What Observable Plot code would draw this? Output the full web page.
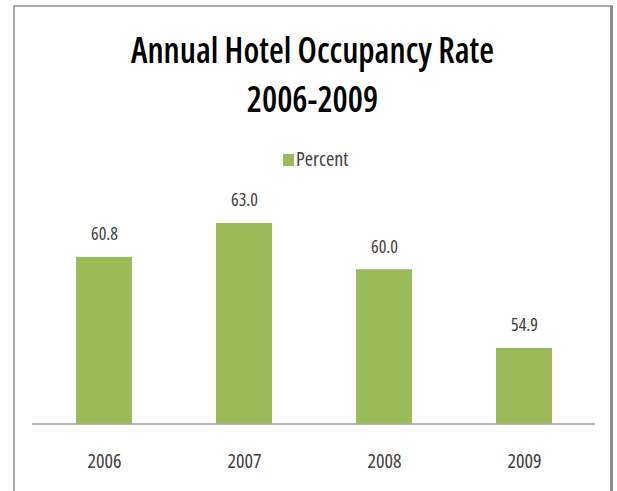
<!DOCTYPE html>
<html>
<head>
<meta charset="utf-8">
<script src="https://cdn.jsdelivr.net/npm/d3@7"></script>
<script src="https://cdn.jsdelivr.net/npm/@observablehq/plot@0.6"></script>
<style>
  html, body { margin: 0; padding: 0; background: #fff; }
  body { width: 617px; height: 491px; position: relative; overflow: hidden; font-family: "Open Sans", sans-serif; font-stretch: 75%; }
  #frame { position: absolute; left: 13px; top: 5px; width: 595px; height: 520px;
           border-left: 2px solid #a8a8a8; border-top: 2px solid #a8a8a8; border-right: 3px solid #8e8e8e; }
  .title { position: absolute; left: 0; width: 625px; text-align: center; font-size: 34px; line-height: 34px;
           font-weight: 600; color: #000; transform: scaleY(1.07); transform-origin: 50% 30px; white-space: nowrap; }
  #legend { position: absolute; left: 283px; top: 149px; font-size: 20px; line-height: 20px; color: #404040; white-space: nowrap; }
  #legend .sw { display: inline-block; width: 11px; height: 12px; background: #9BBB59; margin-right: 2px; vertical-align: 0px; }
  #chart { position: absolute; left: 0; top: 0; }
  #chart svg { font-stretch: 75%; }
</style>
</head>
<body>
<div id="frame"></div>
<div class="title" id="t1" style="top:33px"></div>
<div class="title" id="t2" style="top:81.5px"></div>
<div id="legend"><span class="sw"></span><span id="legendLabel"></span></div>
<div id="chart"></div>
<script>
const titleLines = ["Annual Hotel Occupancy Rate", "2006-2009"];
const seriesName = "Percent";
const years = ["2006", "2007", "2008", "2009"];
const percent = [60.8, 63.0, 60.0, 54.9];
const yMin = 50;
const yMax = 70;

document.getElementById("t1").textContent = titleLines[0];
document.getElementById("t2").textContent = titleLines[1];
document.getElementById("legendLabel").textContent = seriesName;

const data = years.map((y, i) => ({year: y, value: percent[i]}));

const chart = Plot.plot({
  width: 617,
  height: 491,
  marginLeft: 32,
  marginRight: 22,
  marginTop: 115,
  marginBottom: 67.5,
  style: {background: "transparent", fontFamily: "'Open Sans', sans-serif", fontStretch: "75%", color: "#404040"},
  x: {domain: years, paddingInner: 0.6, paddingOuter: 0.3},
  y: {domain: [yMin, yMax], axis: null},
  marks: [
    Plot.barY(data, {x: "year", y1: yMin, y2: "value", fill: "#9BBB59"}),
    Plot.ruleY([yMin], {stroke: "#9c9c9c", strokeWidth: 1.5}),
    Plot.text(data, {x: "year", y: "value", text: d => d.value.toFixed(1), lineAnchor: "bottom", dy: -17, fontSize: 18, fill: "#404040"}),
    Plot.axisX({tickSize: 0, tickPadding: 30, fontSize: 20, label: null, color: "#404040"})
  ]
});
document.getElementById("chart").appendChild(chart);
</script>
</body>
</html>
